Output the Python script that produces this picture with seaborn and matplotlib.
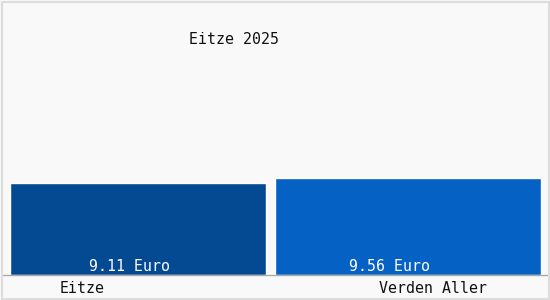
import matplotlib
matplotlib.use("Agg")
import matplotlib.pyplot as plt
import seaborn as sns
import pandas as pd
from matplotlib.patches import Rectangle

categories = ["Eitze", "Verden Aller"]
values = [9.11, 9.56]
value_labels = ["9.11 Euro", "9.56 Euro"]
title = "Eitze 2025"
colors = ["#034a93", "#0561c4"]

df = pd.DataFrame({"cat": categories, "val": values})

sns.set_style("white")
plt.rcParams["font.family"] = ["DejaVu Sans Mono"]

W, H = 550, 300
fig = plt.figure(figsize=(5.5, 3), dpi=100, facecolor="#f9f9f9")
fig.patches.append(Rectangle((1.5 / W, 1.5 / H), 1 - 3 / W, 1 - 3 / H, transform=fig.transFigure,
                             fill=False, edgecolor="#dddddd", linewidth=1.5))
# axes from x=3..547, y=5..275 px
ax = fig.add_axes([3 / W, (H - 275) / H, 544 / W, 270 / H])
ax.set_facecolor("#f9f9f9")
sns.barplot(data=df, x="cat", y="val", hue="cat", palette=colors, width=0.967,
            saturation=1, legend=False, ax=ax)
# slightly unequal bar widths, as in the reference
bar_widths = [0.948, 0.985]
for i, (p, w) in enumerate(zip(ax.patches, bar_widths)):
    p.set_width(w)
    p.set_x(i - w / 2)
ax.set_xlim(-0.5, 1.515)
ax.set_ylim(0, 270 / (92 / 9.11))
for s in ["top", "right", "left"]:
    ax.spines[s].set_visible(False)
ax.spines["bottom"].set_color("#aaaaaa")
ax.spines["bottom"].set_linewidth(1)
ax.set_yticks([])
ax.set_xlabel("")
ax.set_ylabel("")
ax.set_xticks([-0.207, 1.093])
ax.set_xticklabels(categories, fontsize=10.7, color="#111111")
ax.tick_params(axis="x", length=0, pad=4)
label_shift = [-6.3, -13.0]  # points
for i, lab in enumerate(value_labels):
    ax.annotate(lab, (i, 0), xytext=(label_shift[i], 1), textcoords="offset points",
                ha="center", va="bottom", color="white", fontsize=10.7)
fig.text(234 / W, 1 - 39 / H, title, ha="center", va="center", fontsize=10.7, color="#111111")
fig.savefig("out.png", dpi=100, facecolor=fig.get_facecolor())
